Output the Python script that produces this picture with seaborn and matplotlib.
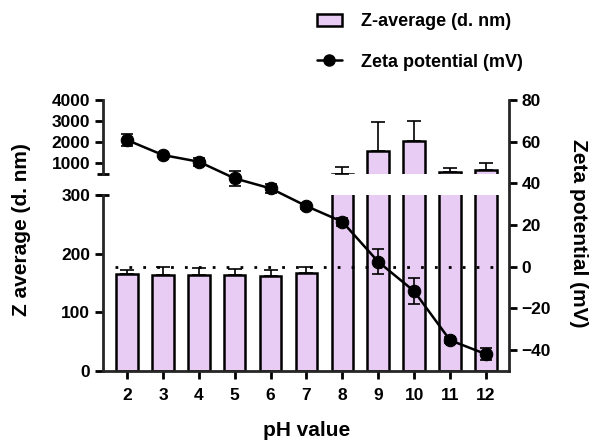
import numpy as np
import pandas as pd
import matplotlib
matplotlib.use('Agg')
import matplotlib.pyplot as plt
from matplotlib.patches import Patch
from matplotlib.lines import Line2D
import seaborn as sns

ph = ['2', '3', '4', '5', '6', '7', '8', '9', '10', '11', '12']
z_avg = [166, 164, 164, 163, 162, 167, 480, 1600, 2050, 600, 680]
z_err = [7, 13, 12, 11, 10, 11, 330, 1340, 970, 170, 350]
zeta = [60.8, 53.6, 50.4, 42.4, 37.6, 29.1, 21.6, 2.4, -11.7, -35.2, -41.9]
zeta_err = [2.9, 1.0, 2.0, 3.5, 2.3, 1.5, 2.0, 6.0, 6.2, 1.5, 3.0]

bar_color = '#E8CCF4'
df = pd.DataFrame({'ph': ph, 'z_avg': z_avg, 'z_err': z_err,
                   'zeta': zeta, 'zeta_err': zeta_err})
df['pos'] = np.arange(len(df))

sns.set_style('ticks')
plt.rcParams['font.family'] = ['Liberation Sans', 'DejaVu Sans']
plt.rcParams['font.weight'] = 'bold'
plt.rcParams['text.color'] = 'black'
plt.rcParams['axes.labelcolor'] = 'black'
plt.rcParams['axes.linewidth'] = 2.0
plt.rcParams['xtick.major.width'] = 2.0
plt.rcParams['ytick.major.width'] = 2.0
plt.rcParams['xtick.major.size'] = 5.5
plt.rcParams['ytick.major.size'] = 5.5
plt.rcParams['xtick.labelsize'] = 12.5
plt.rcParams['ytick.labelsize'] = 12.5
plt.rcParams['xtick.color'] = 'black'
plt.rcParams['ytick.color'] = 'black'

fig = plt.figure(figsize=(5.92, 4.41), dpi=100)
ax_low = fig.add_axes([0.1735, 0.1587, 0.6866, 0.3991])
ax_high = fig.add_axes([0.1735, 0.6048, 0.6866, 0.1684])
ax_z = fig.add_axes([0.1735, 0.1587, 0.6866, 0.6145])
xlim = (-0.68, 10.65)

# bars on both segments of the broken axis
for ax in (ax_low, ax_high):
    sns.barplot(data=df, x='ph', y='z_avg', order=ph, color=bar_color, saturation=1,
                width=0.6, edgecolor='black', linewidth=1.8, errorbar=None, ax=ax)
    ax.errorbar(df['pos'], df['z_avg'], yerr=[np.zeros(len(df)), df['z_err']],
                fmt='none', ecolor='black', elinewidth=1.2, capsize=5, capthick=1.2, zorder=1)
    ax.set_xlim(*xlim)
    ax.set_xlabel('')
    ax.set_ylabel('')
    ax.patch.set_alpha(0)

ax_low.set_ylim(0, 300)
ax_low.set_yticks([0, 100, 200, 300])
ax_low.tick_params(axis='x', pad=7)
sns.despine(ax=ax_low, top=True, right=True)

ax_high.set_ylim(470, 4000)
ax_high.set_yticks([1000, 2000, 3000, 4000])
ax_high.set_xticks([])
sns.despine(ax=ax_high, top=True, right=True, bottom=True)

# break marks on the left spine
ax_high.plot([-0.015, 0.015], [0, 0], transform=ax_high.transAxes, color='black',
             lw=2, clip_on=False, solid_capstyle='butt')
ax_low.plot([-0.015, 0.015], [1, 1], transform=ax_low.transAxes, color='black',
            lw=2, clip_on=False, solid_capstyle='butt')

# zeta potential on the right axis
ax_z.patch.set_alpha(0)
ax_z.hlines(0, -0.35, 10.45, colors='black', linestyles=(0, (1, 4)), lw=2)
ax_z.errorbar(df['pos'], df['zeta'], yerr=df['zeta_err'], fmt='none', ecolor='black',
              elinewidth=1.2, capsize=4.5, capthick=1.2, zorder=3)
sns.lineplot(data=df, x='pos', y='zeta', color='black', lw=1.8, marker='o',
             markersize=9, markeredgecolor='black', ax=ax_z, zorder=4)
ax_z.set_xlim(*xlim)
ax_z.set_ylim(-50, 80)
ax_z.set_yticks([-40, -20, 0, 20, 40, 60, 80])
ax_z.yaxis.tick_right()
ax_z.set_xticks([])
ax_z.set_xlabel('')
ax_z.set_ylabel('')
for side in ('left', 'top', 'bottom'):
    ax_z.spines[side].set_visible(False)
ax_z.spines['right'].set_visible(True)

fig.text(0.036, 0.48, 'Z average (d. nm)', rotation=90, ha='center', va='center',
         fontsize=15, fontweight='bold')
fig.text(0.978, 0.47, 'Zeta potential (mV)', rotation=-90, ha='center', va='center',
         fontsize=15, fontweight='bold')
fig.text(0.518, 0.024, 'pH value', ha='center', va='center', fontsize=15, fontweight='bold')

handles = [Patch(facecolor=bar_color, edgecolor='black', linewidth=1.8),
           Line2D([0], [0], color='black', lw=1.8, marker='o', markersize=8)]
fig.legend(handles, ['Z-average (d. nm)', 'Zeta potential (mV)'], loc='upper left',
           bbox_to_anchor=(0.535, 0.97), frameon=False, handlelength=1.4,
           handletextpad=1.05, labelspacing=1.3, borderpad=0, borderaxespad=0,
           prop={'weight': 'bold', 'size': 13})

fig.savefig('out.png', dpi=100)
